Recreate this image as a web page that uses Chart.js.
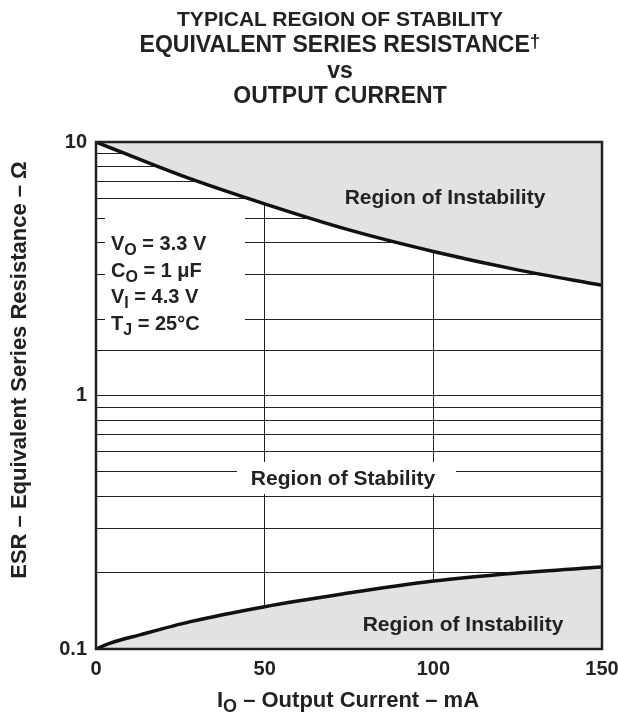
<!DOCTYPE html>
<html>
<head>
<meta charset="utf-8">
<script src="https://cdn.jsdelivr.net/npm/chart.js@4"></script>
<style>
    body { margin: 0; background: #fff; overflow: hidden; }
    .wrap { position: relative; width: 618px; height: 717px; }
    canvas { position: absolute; left: 0; top: 0; }
    .title {
        position: absolute;
        left: 340px;
        transform: translateX(-50%);
        white-space: nowrap;
        font-family: "Liberation Sans", Arial, sans-serif;
        font-weight: bold;
        color: #222;
    }
    .t1 { top: 8px; font-size: 21px; line-height: 21px; }
    .t2 { top: 33px; font-size: 23px; line-height: 23px; }
    .t3 { top: 59px; font-size: 23px; line-height: 23px; }
    .t4 { top: 84px; font-size: 23px; line-height: 23px; }
    .t2 sup { font-size: 19px; position: relative; top: -5px; vertical-align: baseline; }
</style>
</head>
<body>
<div class="wrap">
    <canvas id="chart" width="618" height="717"></canvas>
    <div class="title t1">TYPICAL REGION OF STABILITY</div>
    <div class="title t2">EQUIVALENT SERIES RESISTANCE<sup>†</sup></div>
    <div class="title t3">vs</div>
    <div class="title t4">OUTPUT CURRENT</div>
</div>
<script>
// Data (mA / ohms)
const upperCurrent = [0, 25, 50, 75, 100, 125, 150];
const upperEsr = [10, 7.4, 5.7, 4.5, 3.7, 3.13, 2.72];

const lowerCurrent = [0, 4, 13, 28, 50, 73, 100, 125, 150];
const lowerEsr = [0.1, 0.1052, 0.1137, 0.1282, 0.1469, 0.1648, 0.1854, 0.1995, 0.2104];

const xTicks = [0, 50, 100, 150];
const yLabels = [0.1, 1, 10];

const conditions = [
    [['V'], ['O', 'sub'], [' = 3.3 V']],
    [['C'], ['O', 'sub'], [' = 1 \u03bcF']],
    [['V'], ['I', 'sub'], [' = 4.3 V']],
    [['T'], ['J', 'sub'], [' = 25\u00b0C']]
];

const FONT = '"Liberation Sans", Arial, sans-serif';
const INK = '#222';
const SHADE = '#e1e2e4';

function toPoints(xs, ys) {
    return xs.map((x, i) => ({ x: x, y: ys[i] }));
}

// Draw text with subscript parts, left aligned at x
function drawRich(ctx, parts, x, y, size) {
    parts.forEach(p => {
        const sub = p[1] === 'sub';
        ctx.font = 'bold ' + (sub ? size - 4 : size) + 'px ' + FONT;
        ctx.fillText(p[0], x, sub ? y + 5 : y);
        x += ctx.measureText(p[0]).width;
    });
}

function richWidth(ctx, parts, size) {
    let w = 0;
    parts.forEach(p => {
        ctx.font = 'bold ' + (p[1] === 'sub' ? size - 4 : size) + 'px ' + FONT;
        w += ctx.measureText(p[0]).width;
    });
    return w;
}

// White boxes behind the labels (they hide the grid)
const labelBoxes = {
    id: 'labelBoxes',
    beforeDatasetsDraw(chart) {
        const ctx = chart.ctx;
        ctx.save();
        ctx.fillStyle = '#fff';
        ctx.fillRect(105, 211, 140, 133);
        ctx.fillRect(237, 462, 219, 32);
        ctx.restore();
    }
};

// Frame, region labels, conditions and axis titles
const decorations = {
    id: 'decorations',
    afterDatasetsDraw(chart) {
        const ctx = chart.ctx;
        const a = chart.chartArea;
        ctx.save();
        ctx.strokeStyle = INK;
        ctx.lineWidth = 2.5;
        ctx.strokeRect(a.left, a.top, a.right - a.left, a.bottom - a.top);

        ctx.fillStyle = INK;
        ctx.textBaseline = 'alphabetic';
        ctx.textAlign = 'center';
        ctx.font = 'bold 21px ' + FONT;
        ctx.fillText('Region of Instability', 445, 204);
        ctx.fillText('Region of Stability', 343, 485);
        ctx.fillText('Region of Instability', 463, 631);

        ctx.textAlign = 'left';
        conditions.forEach((line, i) => {
            drawRich(ctx, line, 111, 250 + i * 26.5, 20);
        });

        // x axis title
        const xt = [['I'], ['O', 'sub'], [' \u2013 Output Current \u2013 mA']];
        const w = richWidth(ctx, xt, 22);
        drawRich(ctx, xt, 348 - w / 2, 707, 22);

        // y axis title
        ctx.translate(26, 370);
        ctx.rotate(-Math.PI / 2);
        ctx.textAlign = 'center';
        ctx.font = 'bold 22px ' + FONT;
        ctx.fillText('ESR \u2013 Equivalent Series Resistance \u2013 \u03a9', 0, 0);
        ctx.restore();
    }
};

const ctx = document.getElementById('chart');

new Chart(ctx, {
    type: 'line',
    data: {
        datasets: [{
            data: toPoints(upperCurrent, upperEsr),
            borderColor: '#111',
            borderWidth: 3.5,
            backgroundColor: SHADE,
            fill: 'end',
            pointRadius: 0,
            cubicInterpolationMode: 'monotone'
        }, {
            data: toPoints(lowerCurrent, lowerEsr),
            borderColor: '#111',
            borderWidth: 3.5,
            backgroundColor: SHADE,
            fill: 'start',
            pointRadius: 0,
            cubicInterpolationMode: 'monotone'
        }]
    },
    options: {
        responsive: false,
        animation: false,
        layout: {
            padding: { top: 142, right: 16, left: 0, bottom: 0 }
        },
        plugins: {
            legend: { display: false },
            tooltip: { enabled: false }
        },
        scales: {
            x: {
                type: 'linear',
                min: 0,
                max: 150,
                afterBuildTicks: scale => {
                    scale.ticks = xTicks.map(v => ({ value: v }));
                },
                afterFit: scale => {
                    scale.height = 68;
                    scale.paddingLeft = 0;
                    scale.paddingRight = 0;
                },
                grid: { color: '#222', lineWidth: 1, drawTicks: false },
                border: { display: false },
                ticks: {
                    padding: 8,
                    color: INK,
                    font: { family: FONT, size: 20, weight: 'bold' }
                }
            },
            y: {
                type: 'logarithmic',
                min: 0.1,
                max: 10,
                afterFit: scale => { scale.width = 96; },
                grid: { color: '#222', lineWidth: 1, drawTicks: false },
                border: { display: false },
                ticks: {
                    padding: 9,
                    autoSkip: false,
                    color: INK,
                    font: { family: FONT, size: 20, weight: 'bold' },
                    callback: value => yLabels.includes(value) ? String(value) : ''
                }
            }
        }
    },
    plugins: [labelBoxes, decorations]
});
</script>
</body>
</html>
